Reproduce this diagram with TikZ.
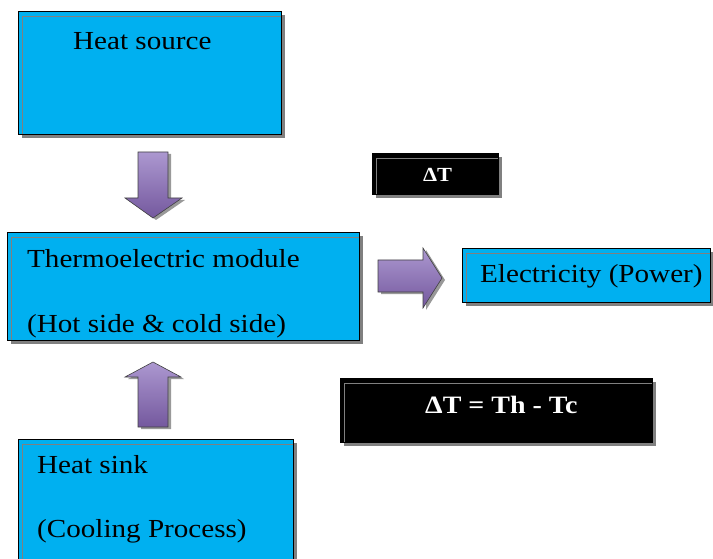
\documentclass[tikz,border=0pt]{standalone}
\usepackage{fontspec}
\setmainfont{Liberation Serif}[FakeStretch=1.12]
\usetikzlibrary{shadows}
\definecolor{boxcyan}{RGB}{0,176,240}
\definecolor{arrowlight}{RGB}{172,152,208}
\definecolor{arrowdark}{RGB}{116,88,158}
\definecolor{shadowgray}{RGB}{128,128,128}
\begin{document}
\begin{tikzpicture}[x=1pt,y=-1pt,
  cbox/.style={draw=black, line width=0.8pt, fill=boxcyan, anchor=north west, inner sep=0pt,
    drop shadow={shadow xshift=4pt, shadow yshift=-4pt, fill=shadowgray, opacity=1, draw=none}},
  kbox/.style={cbox, fill=black},
  lbl/.style={anchor=base west, inner sep=0pt, font=\fontsize{26}{30}\selectfont},
  wlbl/.style={anchor=base west, inner sep=0pt, text=white, font=\bfseries\fontsize{25}{30}\selectfont},
  bevel/.style={draw=shadowgray, line width=0.8pt},
  blockarrow/.style={draw=black!75, line width=0.6pt, top color=arrowlight, bottom color=arrowdark,
    drop shadow={shadow xshift=3pt, shadow yshift=-2pt, fill=shadowgray, opacity=0.8, draw=none}}
]
\useasboundingbox (0,0) rectangle (713,559);

% boxes
\node[cbox, minimum width=263pt, minimum height=123pt] (src) at (18,11) {};
\node[cbox, minimum width=352pt, minimum height=108pt] (tem) at (7,232) {};
\node[cbox, minimum width=248pt, minimum height=54pt] (elec) at (462,248) {};
\node[cbox, minimum width=275pt, minimum height=140pt] (sink) at (18,439) {};
\node[kbox, minimum width=126pt, minimum height=41pt] (dt) at (372,153) {};
\node[kbox, minimum width=312pt, minimum height=64pt] (eq) at (340,378) {};

% bevel lines
\foreach \b in {src,tem,elec,sink,dt,eq}{
  \draw[bevel] ([xshift=4pt,yshift=1pt]\b.south west) -- ([xshift=4pt,yshift=-5pt]\b.north west) -- ([xshift=-1pt,yshift=-5pt]\b.north east);
}

% block arrows
\path[blockarrow] (138,152) -- (168,152) -- (168,198) -- (182,198) -- (153,218) -- (125,198) -- (138,198) -- cycle;
\path[blockarrow] (153,362) -- (181,377) -- (168,377) -- (168,427) -- (138,427) -- (138,377) -- (125,377) -- cycle;
\path[blockarrow] (378,260) -- (423,260) -- (423,248) -- (442,278) -- (423,308) -- (423,292) -- (378,292) -- cycle;

% texts
\node[lbl] (srcT) at (73,50) {Heat source};
\node[lbl] (temT1) at (27,267) {Thermoelectric module};
\node[lbl] (temT2) at (27,332) {(Hot side \& cold side)};
\node[lbl] (elecT) at (480,282) {Electricity (Power)};
\node[lbl] (sinkT1) at (37,473) {Heat sink};
\node[lbl] (sinkT2) at (37,537) {(Cooling Process)};
\node[wlbl, font=\bfseries\fontsize{20}{24}\selectfont] (dtT) at (423,182) {ΔT};
\node[wlbl] (eqT) at (425,413) {ΔT = Th - Tc};
\end{tikzpicture}
\end{document}
